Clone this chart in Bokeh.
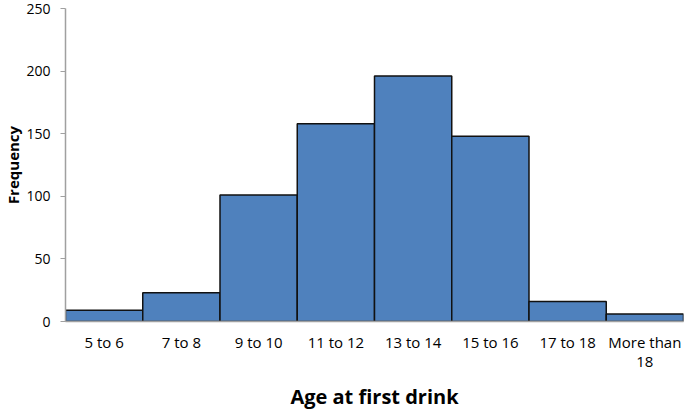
from bokeh.plotting import figure
from bokeh.models import ColumnDataSource, FixedTicker, FactorRange
from bokeh.embed import file_html
from bokeh.resources import INLINE

categories = ["5 to 6", "7 to 8", "9 to 10", "11 to 12", "13 to 14", "15 to 16", "17 to 18", "More than\n18"]
frequency = [9, 23, 101, 158, 196, 148, 16, 6]
y_ticks = [0, 50, 100, 150, 200, 250]

src = ColumnDataSource(dict(cat=categories, freq=frequency))

p = figure(frame_width=618, frame_height=313, x_range=FactorRange(*categories, range_padding=0),
           y_range=(0, 250), output_backend="svg", toolbar_location=None,
           min_border_left=55, min_border_right=1, min_border_top=8, min_border_bottom=0)

p.vbar(x="cat", top="freq", width=1.0, source=src, fill_color="#4F81BD",
       line_color="#111111", line_width=1.5)

p.xgrid.visible = False
p.ygrid.visible = False
p.outline_line_color = None

font = "Open Sans"
p.yaxis.ticker = FixedTicker(ticks=y_ticks)
p.yaxis.minor_tick_line_color = None
p.yaxis.major_tick_out = 5
p.yaxis.major_tick_in = 0
p.yaxis.axis_line_color = "#A0A0A0"
p.yaxis.axis_line_width = 1.5
p.yaxis.major_tick_line_color = "#A0A0A0"
p.yaxis.major_label_text_font = font
p.yaxis.major_label_text_font_size = "14px"
p.yaxis.major_label_text_color = "#000000"
p.yaxis.major_label_standoff = 10
p.yaxis.axis_label = "Frequency"
p.yaxis.axis_label_text_font = font
p.yaxis.axis_label_text_font_size = "15px"
p.yaxis.axis_label_text_font_style = "bold"
p.yaxis.axis_label_text_color = "#000000"
p.yaxis.axis_label_standoff = 0

p.xaxis.major_tick_line_color = None
p.xaxis.minor_tick_line_color = None
p.xaxis.axis_line_color = "#A0A0A0"
p.xaxis.axis_line_width = 1.5
p.xaxis.major_label_text_font = font
p.xaxis.major_label_text_font_size = "15px"
p.xaxis.major_label_text_line_height = 0.95
p.xaxis.major_label_text_color = "#000000"
p.xaxis.major_label_standoff = 4
p.xaxis.axis_label = "Age at first drink"
p.xaxis.axis_label_text_font = font
p.xaxis.axis_label_text_font_size = "20px"
p.xaxis.axis_label_text_font_style = "bold"
p.xaxis.axis_label_text_color = "#000000"
p.xaxis.axis_label_standoff = 9

open("out.html", "w").write(file_html(p, INLINE))
